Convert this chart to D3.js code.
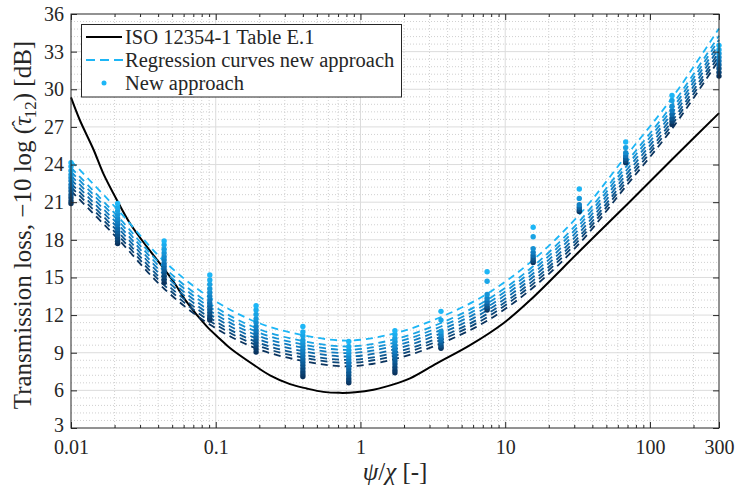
<!DOCTYPE html>
<html>
<head>
<meta charset="utf-8">
<script src="https://cdnjs.cloudflare.com/ajax/libs/d3/7.8.5/d3.min.js"></script>
<style>
  body { margin: 0; background: #fff; }
  svg text { font-family: "Liberation Serif", "Times New Roman", serif; fill: #262626; }
</style>
</head>
<body>
<svg id="chart" width="737" height="495"></svg>
<script>
// psi/chi positions of the measured columns
var ratios = [0.01, 0.021, 0.044, 0.091, 0.19, 0.40, 0.83, 1.73, 3.6, 7.5, 15.6, 32.5, 68, 142, 300];

// ISO 12354-1 Table E.1 curve
var isoX = [0.01, 0.0115, 0.0143, 0.0167, 0.0207, 0.0256, 0.0334, 0.0412, 0.0509, 0.063, 0.0867, 0.107, 0.126,
            0.19, 0.237, 0.326, 0.425, 0.554, 0.72, 0.92, 1.23, 1.78, 2.2, 3.37, 5.72, 9.72, 14.9, 33, 72, 142, 300];
var isoY = [29.35, 27.55, 25.2, 23.3, 21.2, 19.3, 17.45, 16.1, 14.7, 13.05, 11.1, 10.1, 9.35,
            7.9, 7.2, 6.5, 6.15, 5.88, 5.8, 5.84, 6.05, 6.56, 6.95, 8.15, 9.6, 11.35, 13.2, 17.15, 21.0, 24.4, 28.1];

// regression curves, light (top) to dark (bottom), one value per column
var reg1 = [24.3, 20.4, 16.3, 13.4, 11.45, 10.4, 9.97, 10.55, 11.85, 13.7, 16.4, 20.0, 24.65, 29.3, 34.85];
var reg2 = [23.75, 19.87, 15.79, 12.91, 10.97, 9.93, 9.5, 10.08, 11.37, 13.21, 15.89, 19.47, 24.1, 28.74, 34.27];
var reg3 = [23.44, 19.57, 15.51, 12.63, 10.69, 9.66, 9.23, 9.81, 11.09, 12.93, 15.61, 19.17, 23.79, 28.42, 33.95];
var reg4 = [23.12, 19.27, 15.22, 12.35, 10.42, 9.4, 8.97, 9.55, 10.82, 12.65, 15.32, 18.87, 23.47, 28.1, 33.62];
var reg5 = [22.81, 18.97, 14.94, 12.07, 10.15, 9.13, 8.7, 9.28, 10.55, 12.37, 15.04, 18.57, 23.16, 27.78, 33.3];
var reg6 = [22.5, 18.67, 14.65, 11.79, 9.87, 8.86, 8.43, 9.01, 10.27, 12.09, 14.75, 18.27, 22.85, 27.46, 32.97];
var reg7 = [22.21, 18.4, 14.39, 11.53, 9.62, 8.62, 8.19, 8.77, 10.02, 11.83, 14.49, 18.0, 22.56, 27.17, 32.67];
var reg8 = [21.9, 18.1, 14.1, 11.25, 9.35, 8.35, 7.92, 8.5, 9.75, 11.55, 14.2, 17.7, 22.25, 26.85, 32.35];
var regCurves = [reg1, reg2, reg3, reg4, reg5, reg6, reg7, reg8];

// new approach points per column (top to bottom)
var newApproach = [
  [24.15, 23.85, 23.5, 23.2, 22.95, 22.7, 22.4, 22.15, 21.9, 21.6, 21.35, 21.1, 20.9],
  [20.9, 20.6, 20.3, 20.0, 19.7, 19.45, 19.2, 18.9, 18.65, 18.4, 18.15, 17.9, 17.7],
  [17.9, 17.6, 17.25, 16.95, 16.65, 16.4, 16.1, 15.85, 15.6, 15.35, 15.1, 14.85, 14.6],
  [15.2, 14.8, 14.45, 14.1, 13.8, 13.5, 13.2, 12.95, 12.7, 12.45, 12.2, 11.95, 11.75, 11.6],
  [12.75, 12.4, 12.05, 11.7, 11.4, 11.1, 10.8, 10.55, 10.3, 10.05, 9.8, 9.55, 9.3, 9.05],
  [11.1, 10.65, 10.35, 10.0, 9.75, 9.5, 9.25, 9.0, 8.75, 8.5, 8.25, 8.0, 7.75, 7.5, 7.3, 7.1],
  [9.9, 9.5, 9.2, 8.95, 8.7, 8.45, 8.2, 7.95, 7.7, 7.45, 7.2, 6.95, 6.75, 6.6],
  [10.75, 10.45, 10.15, 9.9, 9.6, 9.35, 9.1, 8.85, 8.6, 8.35, 8.1, 7.85, 7.6, 7.4],
  [12.3, 11.6, 10.7, 10.45, 10.2, 10.0, 9.8, 9.6, 9.45, 9.35],
  [15.45, 14.7, 13.65, 13.35, 13.1, 12.9, 12.7, 12.55, 12.4],
  [19.0, 18.25, 17.3, 17.0, 16.75, 16.55, 16.35, 16.2],
  [22.05, 21.3, 20.8, 20.6, 20.4, 20.25],
  [25.8, 25.35, 24.95, 24.7, 24.5, 24.3, 24.15],
  [29.5, 29.1, 28.65, 28.3, 28.0, 27.7, 27.45, 27.2],
  [33.5, 33.15, 32.85, 32.55, 32.25, 31.95, 31.65, 31.35, 31.05]
];

var xTicks = [0.01, 0.1, 1, 10, 100, 300];
var yTicks = [3, 6, 9, 12, 15, 18, 21, 24, 27, 30, 33, 36];
var legendLabels = ["ISO 12354-1 Table E.1", "Regression curves new approach", "New approach"];

var svg = d3.select("#chart"),
    W = +svg.attr("width"), H = +svg.attr("height"),
    margin = {top: 14, right: 18, bottom: 67, left: 71};

var x = d3.scaleLog().domain([0.01, 300]).range([margin.left, W - margin.right]);
var y = d3.scaleLinear().domain([3, 36]).range([H - margin.bottom, margin.top]);

var blues = d3.scaleLinear().domain([0, 0.5, 1])
  .range(["#1db6f6", "#0f74b8", "#0a335e"]).interpolate(d3.interpolateRgb);

// minor grid positions
var xMinor = [];
[0.01, 0.1, 1, 10, 100].forEach(function(d) {
  for (var k = 2; k <= 9; k++) if (k * d < 300) xMinor.push(k * d);
});
var yMinor = d3.range(3, 36.01, 0.6).filter(function(v) { return Math.abs(v / 3 - Math.round(v / 3)) > 0.01; });

var grid = svg.append("g");
grid.selectAll(".xmin").data(xMinor).enter().append("line")
  .attr("x1", d => x(d)).attr("x2", d => x(d)).attr("y1", y(3)).attr("y2", y(36))
  .attr("stroke", "#c4c4c4").attr("stroke-width", 0.8).attr("stroke-dasharray", "1,2");
grid.selectAll(".ymin").data(yMinor).enter().append("line")
  .attr("x1", x(0.01)).attr("x2", x(300)).attr("y1", d => y(d)).attr("y2", d => y(d))
  .attr("stroke", "#c4c4c4").attr("stroke-width", 0.8).attr("stroke-dasharray", "1,2");
grid.selectAll(".xmaj").data([0.1, 1, 10, 100]).enter().append("line")
  .attr("x1", d => x(d)).attr("x2", d => x(d)).attr("y1", y(3)).attr("y2", y(36))
  .attr("stroke", "#dcdcdc").attr("stroke-width", 1);
grid.selectAll(".ymaj").data(yTicks.slice(1, -1)).enter().append("line")
  .attr("x1", x(0.01)).attr("x2", x(300)).attr("y1", d => y(d)).attr("y2", d => y(d))
  .attr("stroke", "#dcdcdc").attr("stroke-width", 1);

// ISO curve
var line = d3.line().x(d => x(d[0])).y(d => y(d[1])).curve(d3.curveCatmullRom.alpha(0.5));
svg.append("path")
  .datum(isoX.map((v, i) => [v, isoY[i]]))
  .attr("d", line)
  .attr("fill", "none").attr("stroke", "#000").attr("stroke-width", 2);

// regression curves
svg.append("g").selectAll("path")
  .data(regCurves).enter().append("path")
  .attr("d", c => line(ratios.map((v, i) => [v, c[i]])))
  .attr("fill", "none")
  .attr("stroke", (c, i) => blues(i / (regCurves.length - 1)))
  .attr("stroke-width", 1.8)
  .attr("stroke-dasharray", "7,5");

// points
var pts = [];
newApproach.forEach(function(col, j) {
  col.forEach(function(v, k) {
    pts.push({x: ratios[j], v: v, t: k / (col.length - 1)});
  });
});
pts.sort((a, b) => b.t - a.t);
svg.append("g").selectAll("circle")
  .data(pts).enter().append("circle")
  .attr("cx", d => x(d.x)).attr("cy", d => y(d.v)).attr("r", 2.7)
  .attr("fill", d => blues(d.t));

// axes
var ink = "#262626";
function styleAxis(g) {
  g.select(".domain").remove();
  g.selectAll(".tick line").attr("stroke", ink);
  g.selectAll("text").style("font-size", "20px").attr("fill", ink);
}
svg.append("g").attr("transform", "translate(0," + y(3) + ")")
  .call(d3.axisBottom(x).tickValues(xTicks).tickFormat(d3.format("~g")).tickSizeInner(-6).tickSizeOuter(0).tickPadding(12))
  .call(styleAxis);
svg.append("g").attr("transform", "translate(0," + y(3) + ")")
  .call(d3.axisBottom(x).tickValues(xMinor).tickFormat("").tickSizeInner(-3).tickSizeOuter(0))
  .call(styleAxis);
svg.append("g").attr("transform", "translate(0," + y(36) + ")")
  .call(d3.axisTop(x).tickValues(xTicks).tickFormat("").tickSizeInner(-6).tickSizeOuter(0))
  .call(styleAxis);
svg.append("g").attr("transform", "translate(0," + y(36) + ")")
  .call(d3.axisTop(x).tickValues(xMinor).tickFormat("").tickSizeInner(-3).tickSizeOuter(0))
  .call(styleAxis);
var yAx = svg.append("g").attr("transform", "translate(" + x(0.01) + ",0)")
  .call(d3.axisLeft(y).tickValues(yTicks).tickSizeInner(-6).tickSizeOuter(0).tickPadding(7))
  .call(styleAxis);
// lift the lowest label a touch so it clears "0.01"
yAx.selectAll(".tick text").filter(d => d === 3).attr("dy", "0.18em");
svg.append("g").attr("transform", "translate(" + x(300) + ",0)")
  .call(d3.axisRight(y).tickValues(yTicks).tickFormat("").tickSizeInner(-6).tickSizeOuter(0))
  .call(styleAxis);

svg.append("rect")
  .attr("x", x(0.01)).attr("y", y(36))
  .attr("width", x(300) - x(0.01)).attr("height", y(3) - y(36))
  .attr("fill", "none").attr("stroke", ink).attr("stroke-width", 1);

// axis labels
var xl = svg.append("text")
  .attr("x", (x(0.01) + x(300)) / 2).attr("y", 480)
  .attr("text-anchor", "middle").style("font-size", "25px");
xl.append("tspan").style("font-style", "italic").text("ψ");
xl.append("tspan").text("/");
xl.append("tspan").style("font-style", "italic").text("χ");
xl.append("tspan").text(" [-]");

var yl = svg.append("text")
  .attr("transform", "translate(31," + ((y(3) + y(36)) / 2 + 4) + ") rotate(-90)")
  .attr("text-anchor", "middle").style("font-size", "25px");
yl.append("tspan").text("Transmission loss, −10 log (");
yl.append("tspan").style("font-style", "italic").text("τ");
yl.append("tspan").attr("dx", -10).attr("dy", -4).style("font-size", "20px").text("ˆ");
yl.append("tspan").attr("dx", 2).attr("dy", 9).style("font-size", "17px").text("12");
yl.append("tspan").attr("dy", -5).text(") [dB]");

// legend
var lg = svg.append("g");
lg.append("rect").attr("x", 81.5).attr("y", 24.5).attr("width", 320).attr("height", 72.5)
  .attr("fill", "#fff").attr("stroke", ink).attr("stroke-width", 1);
var rows = [37, 60, 83];
lg.append("line").attr("x1", 86).attr("x2", 122).attr("y1", rows[0]).attr("y2", rows[0])
  .attr("stroke", "#000").attr("stroke-width", 2);
lg.append("line").attr("x1", 86).attr("x2", 123).attr("y1", rows[1]).attr("y2", rows[1])
  .attr("stroke", blues(0)).attr("stroke-width", 1.8).attr("stroke-dasharray", "9,5");
lg.append("circle").attr("cx", 104).attr("cy", rows[2]).attr("r", 2.5).attr("fill", blues(0));
lg.selectAll("text").data(legendLabels).enter().append("text")
  .attr("x", 125).attr("y", (d, i) => rows[i]).attr("dy", "0.33em")
  .style("font-size", "20.5px").text(d => d);
</script>
</body>
</html>
